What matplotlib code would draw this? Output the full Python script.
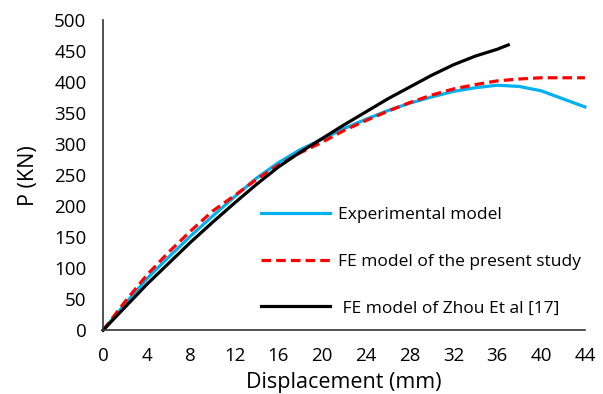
import matplotlib
matplotlib.use("Agg")
import matplotlib.pyplot as plt

plt.rcParams['font.family'] = ['Open Sans', 'DejaVu Sans']

# displacement (mm) vs load P (kN)
exp_x = [0, 2, 4, 6, 8, 10, 12, 14, 16, 18, 20, 22, 24, 26, 28, 30, 32, 34, 36, 38, 40, 42, 44]
exp_y = [0, 42, 83, 118, 152, 184, 215, 245, 270, 291, 308, 325, 340, 354, 366, 376, 385, 391, 395, 393, 386, 373, 360]

fe_x = [0, 2, 4, 6, 8, 10, 12, 14, 16, 18, 20, 22, 24, 26, 28, 30, 32, 34, 36, 38, 40, 42, 44]
fe_y = [0, 46, 89, 126, 160, 192, 217, 243, 266, 286, 303, 322, 338, 353, 367, 379, 389, 396, 402, 405, 407, 407, 407]

zhou_x = [0, 2, 4, 6, 8, 10, 12, 14, 16, 18, 20, 22, 24, 26, 28, 30, 32, 34, 36, 37]
zhou_y = [0, 37, 74, 108, 142, 174, 205, 235, 263, 287, 309, 331, 352, 373, 392, 411, 428, 442, 453, 460]

fig = plt.figure(figsize=(6.03, 3.94), dpi=100)
ax = fig.add_axes([0.171, 0.162, 0.799, 0.787])

ax.plot(exp_x, exp_y, color='#00b0f0', lw=2.3, label='Experimental model', clip_on=False)
ax.plot(fe_x, fe_y, color='#ff0000', lw=2.3, ls=(0, (3, 1.6)), label='FE model of the present study', clip_on=False)
ax.plot(zhou_x, zhou_y, color='black', lw=2.3, label=' FE model of Zhou Et al [17]', clip_on=False)

ax.set_xlim(0, 44)
ax.set_ylim(0, 500)
ax.set_xticks(range(0, 45, 4))
ax.set_yticks(range(0, 501, 50))
ax.tick_params(length=0, labelsize=13.5, pad=12)
ax.spines['top'].set_visible(False)
ax.spines['right'].set_visible(False)
for s in ['left', 'bottom']:
    ax.spines[s].set_color('#333333')
    ax.spines[s].set_linewidth(1.2)

ax.set_xlabel('Displacement (mm)', fontsize=15.5, labelpad=5)
ax.set_ylabel('P (KN)', fontsize=15.5, labelpad=11)

ax.legend(loc='upper left', bbox_to_anchor=(0.313, 0.419), frameon=False, fontsize=12.5,
          handlelength=4.0, handletextpad=0.45, labelspacing=1.75, borderaxespad=0)

fig.savefig('out.png', dpi=100)
